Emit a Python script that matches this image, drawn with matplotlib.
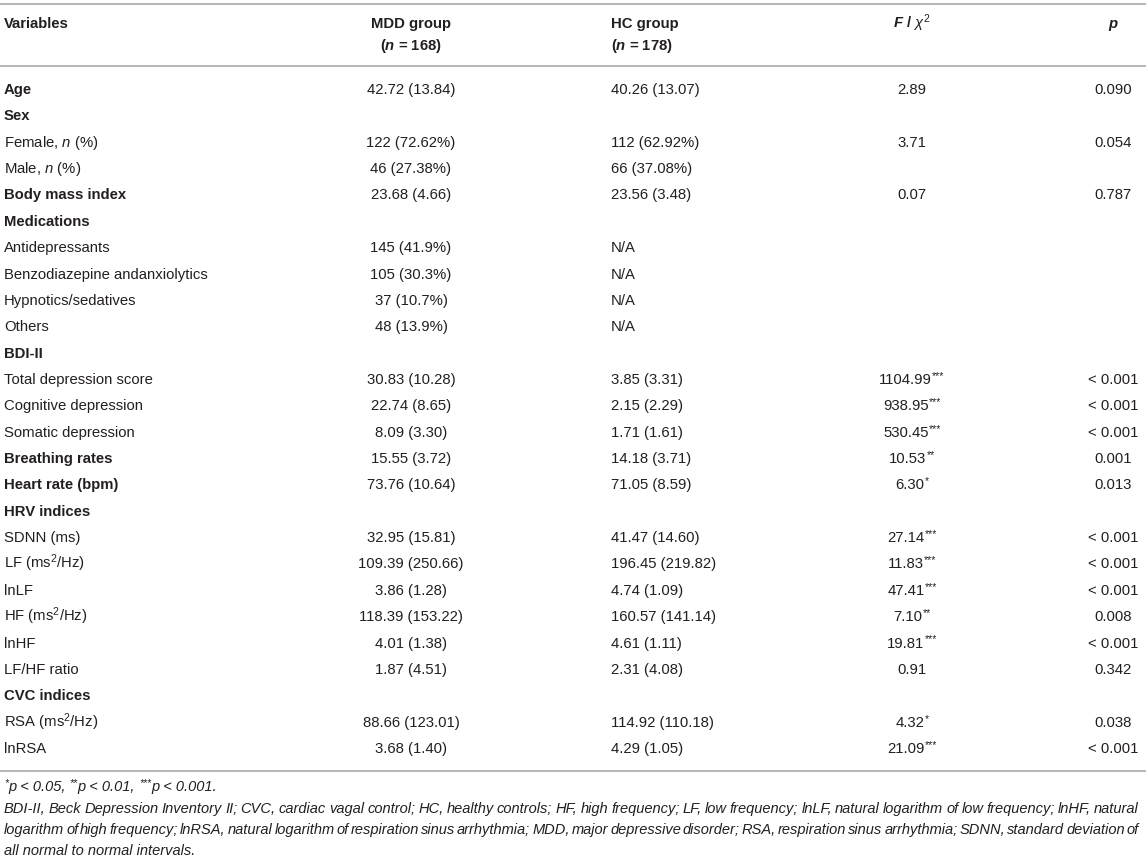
import matplotlib
matplotlib.use("Agg")
import matplotlib.pyplot as plt

# table content
variables = ["Age", "Sex", "Female, $n$ (%)", "Male, $n$ (%)", "Body mass index",
             "Medications", "Antidepressants", "Benzodiazepine andanxiolytics",
             "Hypnotics/sedatives", "Others", "BDI-II", "Total depression score",
             "Cognitive depression", "Somatic depression", "Breathing rates",
             "Heart rate (bpm)", "HRV indices", "SDNN (ms)", "LF (ms$^{2}$/Hz)",
             "lnLF", "HF (ms$^{2}$/Hz)", "lnHF", "LF/HF ratio", "CVC indices",
             "RSA (ms$^{2}$/Hz)", "lnRSA"]
bold_rows = ["Age", "Sex", "Body mass index", "Medications", "BDI-II",
             "Breathing rates", "Heart rate (bpm)", "HRV indices", "CVC indices"]
mdd = ["42.72 (13.84)", "", "122 (72.62%)", "46 (27.38%)", "23.68 (4.66)", "",
       "145 (41.9%)", "105 (30.3%)", "37 (10.7%)", "48 (13.9%)", "",
       "30.83 (10.28)", "22.74 (8.65)", "8.09 (3.30)", "15.55 (3.72)",
       "73.76 (10.64)", "", "32.95 (15.81)", "109.39 (250.66)", "3.86 (1.28)",
       "118.39 (153.22)", "4.01 (1.38)", "1.87 (4.51)", "", "88.66 (123.01)",
       "3.68 (1.40)"]
hc = ["40.26 (13.07)", "", "112 (62.92%)", "66 (37.08%)", "23.56 (3.48)", "",
      "N/A", "N/A", "N/A", "N/A", "",
      "3.85 (3.31)", "2.15 (2.29)", "1.71 (1.61)", "14.18 (3.71)",
      "71.05 (8.59)", "", "41.47 (14.60)", "196.45 (219.82)", "4.74 (1.09)",
      "160.57 (141.14)", "4.61 (1.11)", "2.31 (4.08)", "", "114.92 (110.18)",
      "4.29 (1.05)"]
f_vals = ["2.89", "", "3.71", "", "0.07", "", "", "", "", "", "",
          "1104.99", "938.95", "530.45", "10.53", "6.30", "", "27.14", "11.83",
          "47.41", "7.10", "19.81", "0.91", "", "4.32", "21.09"]
f_stars = ["", "", "", "", "", "", "", "", "", "", "",
           "***", "***", "***", "**", "*", "", "***", "***",
           "***", "**", "***", "", "", "*", "***"]
p_vals = ["0.090", "", "0.054", "", "0.787", "", "", "", "", "", "",
          "< 0.001", "< 0.001", "< 0.001", "0.001", "0.013", "", "< 0.001",
          "< 0.001", "< 0.001", "0.008", "< 0.001", "0.342", "", "0.038",
          "< 0.001"]

note_sig = [("*", True), ("p < 0.05, ", False), ("**", True), ("p < 0.01, ", False),
            ("***", True), ("p < 0.001.", False)]
note_lines = [
    "BDI-II, Beck Depression Inventory II; CVC, cardiac vagal control; HC, healthy controls; "
    "HF, high frequency; LF, low frequency; lnLF, natural logarithm of low frequency; lnHF, natural",
    "logarithm of high frequency; lnRSA, natural logarithm of respiration sinus arrhythmia; "
    "MDD, major depressive disorder; RSA, respiration sinus arrhythmia; SDNN, standard deviation of",
    "all normal to normal intervals.",
]

plt.rcParams["font.family"] = ["Liberation Sans", "DejaVu Sans"]
plt.rcParams["mathtext.fontset"] = "custom"
plt.rcParams["mathtext.rm"] = "Liberation Sans"
plt.rcParams["mathtext.it"] = "Liberation Sans:italic"
plt.rcParams["mathtext.bf"] = "Liberation Sans:bold"
plt.rcParams["mathtext.bfit"] = "Liberation Sans:italic:bold"

W, H = 1146, 857
fig = plt.figure(figsize=(W / 100, H / 100), dpi=100)
ax = fig.add_axes([0, 0, 1, 1])
ax.set_xlim(0, W)
ax.set_ylim(H, 0)
ax.axis("off")
renderer = fig.canvas.get_renderer()

txt = "#231f20"
fs = 10.7
fs_note = 10.55
line_col = "#aaaaaa"
base = 5  # center -> baseline offset in px

x_var, x_mdd, x_hc, x_f, x_p = 4, 411, 611, 912, 1113


def rich(x, y, parts, ha="left", size=fs, **kw):
    # parts: list of (string, is_superscript)
    objs = []
    for s, sup in parts:
        o = ax.text(0, y + base - (5 if sup else 0), s, va="baseline", ha="left",
                    color=txt, fontsize=size * (0.7 if sup else 1), **kw)
        objs.append(o)
    widths = [o.get_window_extent(renderer).width for o in objs]
    total = sum(widths)
    x0 = x if ha == "left" else x - total / 2
    for o, w in zip(objs, widths):
        o.set_x(x0)
        x0 += w


# rules
for yl in (4, 66, 771):
    ax.plot([0, W], [yl, yl], color=line_col, lw=1.2, solid_capstyle="butt")

# header
hkw = dict(fontsize=fs, color=txt, fontweight="bold", va="baseline")
ax.text(x_var, 23 + base, "Variables", ha="left", **hkw)
ax.text(x_mdd, 23 + base, "MDD group", ha="center", **hkw)
ax.text(x_mdd, 45 + base, r"($\mathbfit{n}$ = 168)", ha="center", **hkw)
ax.text(x_hc, 23 + base, "HC group", ha="left", **hkw)
ax.text(x_hc, 45 + base, r"($\mathbfit{n}$ = 178)", ha="left", **hkw)
ax.text(x_f, 23 + base, r"$\mathbfit{F}$ / $\chi^{2}$", ha="center", **hkw)
ax.text(x_p, 23 + base, "p", ha="center", style="italic", **hkw)

row_y0, row_dy = 89, 26.36
for i, name in enumerate(variables):
    y = row_y0 + i * row_dy
    kw = dict(fontsize=fs, color=txt, va="baseline")
    ax.text(x_var, y + base, name, ha="left",
            fontweight="bold" if name in bold_rows else "normal", **kw)
    if mdd[i]:
        ax.text(x_mdd, y + base, mdd[i], ha="center", **kw)
    if hc[i]:
        ax.text(x_hc, y + base, hc[i], ha="left", **kw)
    if f_vals[i]:
        parts = [(f_vals[i], False)]
        if f_stars[i]:
            parts.append((f_stars[i], True))
        rich(x_f, y, parts, ha="center")
    if p_vals[i]:
        ax.text(x_p, y + base, p_vals[i], ha="center", **kw)

# footnotes
rich(x_var, 786, note_sig, size=fs_note, style="italic")

nkw = dict(fontsize=fs_note, color=txt, va="baseline", ha="left", style="italic")
note_y = [808, 829, 850]
for k, line in enumerate(note_lines):
    if k == len(note_lines) - 1:
        ax.text(x_var, note_y[k] + base, line, **nkw)
        continue
    # justified line
    words = line.split(" ")
    objs = [ax.text(0, note_y[k] + base, w, **nkw) for w in words]
    widths = [o.get_window_extent(renderer).width for o in objs]
    gap = (1139 - x_var - sum(widths)) / (len(words) - 1)
    x = x_var
    for o, w in zip(objs, widths):
        o.set_x(x)
        x += w + gap

fig.savefig("out.png", dpi=100)
